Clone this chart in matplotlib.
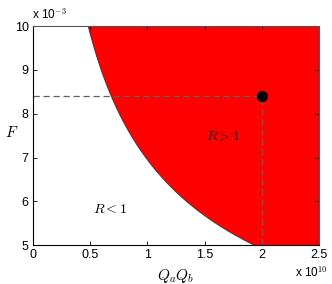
import numpy as np
import matplotlib
matplotlib.use("Agg")
import matplotlib.pyplot as plt
from matplotlib.ticker import FuncFormatter

plt.rcParams['font.family'] = ['Liberation Sans', 'DejaVu Sans']
plt.rcParams['mathtext.fontset'] = 'cm'

# threshold R = 1 boundary: F = c / sqrt(Qa*Qb)
c_thresh = 6.95e-3 * 1e5
point_x = [2.0e10]
point_y = [8.4e-3]
xlim = (0, 2.5e10)
ylim = (5e-3, 10e-3)
xticks = [0, 0.5e10, 1e10, 1.5e10, 2e10, 2.5e10]
yticks = [5e-3, 6e-3, 7e-3, 8e-3, 9e-3, 10e-3]

fig = plt.figure(figsize=(3.32, 2.84), dpi=100)
ax = fig.add_axes([0.0994, 0.137, 0.8616, 0.771])

x = np.linspace(0.3e10, 2.6e10, 400)
f = c_thresh / np.sqrt(x)
ax.fill_between(x, f, 1, color='#ff0000', linewidth=0)
ax.plot(x, f, color='#404040', linewidth=0.8)

ax.plot([0, point_x[0]], [point_y[0], point_y[0]], '--', color='#606060', linewidth=0.9, dashes=(5, 3))
ax.plot([point_x[0], point_x[0]], [ylim[0], point_y[0]], '--', color='#606060', linewidth=0.9, dashes=(5, 3))
ax.plot(point_x, point_y, 'o', color='black', markersize=7)

ax.text(1.66e10, 7.49e-3, r'$R > 1$', fontsize=10, ha='center', va='center', color='#222222')
ax.text(0.67e10, 5.82e-3, r'$R < 1$', fontsize=10, ha='center', va='center')

ax.set_xlim(xlim)
ax.set_ylim(ylim)
ax.set_xticks(xticks)
ax.set_yticks(yticks)
ax.xaxis.set_major_formatter(FuncFormatter(lambda v, p: '%g' % (v / 1e10)))
ax.yaxis.set_major_formatter(FuncFormatter(lambda v, p: '%g' % (v / 1e-3)))
ax.tick_params(direction='in', top=True, right=True, labelsize=9, length=3, width=0.6, pad=3)
for s in ax.spines.values():
    s.set_linewidth(0.8)
    s.set_color('#555555')
ax.spines['left'].set_color('black')
ax.spines['bottom'].set_color('black')

ax.set_xlabel(r'$Q_aQ_b$', fontsize=11, labelpad=4)
ax.set_ylabel(r'$F$', fontsize=11, rotation=0)
ax.yaxis.set_label_coords(-0.075, 0.48)

fig.text(0.095, 0.925, r'x 10$^{-3}$', fontsize=8.5, ha='left', va='bottom')
fig.text(0.89, 0.015, r'x 10$^{10}$', fontsize=8.5, ha='left', va='bottom')

fig.savefig('out.png', dpi=100)
